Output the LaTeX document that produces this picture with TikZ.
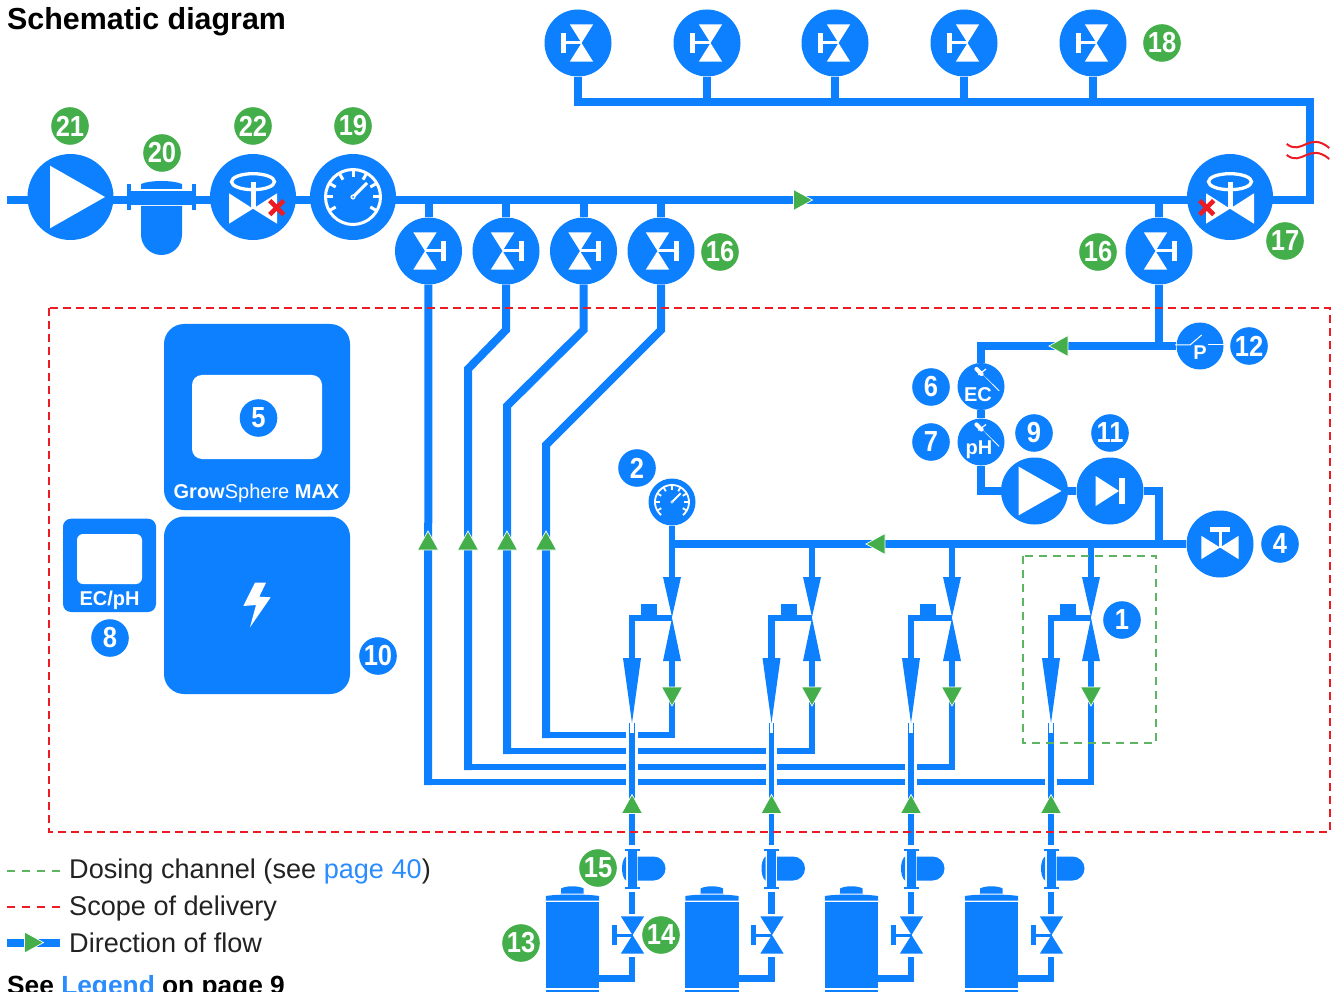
\documentclass[tikz,border=0pt]{standalone}
\usepackage{fontspec}
\setmainfont{Liberation Sans}
\newfontfamily\numfont[FakeStretch=0.88]{Liberation Sans}

\definecolor{pipeblue}{HTML}{0D80FF}
\definecolor{linkblue}{HTML}{2A8CFF}
\definecolor{flowgreen}{HTML}{43AE4A}
\definecolor{dashgreen}{HTML}{5DB562}
\definecolor{scopered}{HTML}{ED1C24}
\definecolor{inktext}{HTML}{222222}

\tikzset{
    pipe/.style={draw=pipeblue, line width=8pt},
    route/.style={draw=pipeblue, line width=6.3pt},
    bigcirc/.style={circle, fill=pipeblue, inner sep=0pt, minimum size=86pt},
    midcirc/.style={circle, fill=pipeblue, inner sep=0pt, minimum size=67pt},
    smallcirc/.style={circle, fill=pipeblue, inner sep=0pt, minimum size=47pt},
    bluenum/.style={circle, fill=pipeblue, text=white, inner sep=0pt, minimum size=37.6pt,
        font=\numfont\bfseries\fontsize{29}{29}\selectfont},
    greennum/.style={bluenum, fill=flowgreen},
    instrtext/.style={text=white, inner sep=0pt, font=\bfseries\fontsize{20}{20}\selectfont},
    legendtext/.style={anchor=base west, inner sep=0pt, text=inktext, font=\fontsize{27.1}{27}\selectfont},
    headtext/.style={anchor=base west, inner sep=0pt, text=black, font=\bfseries\fontsize{#1}{#1}\selectfont},
    tankbody/.style={rectangle, fill=pipeblue, inner sep=0pt, minimum width=53.3pt, minimum height=86pt},
    spacer/.style={rectangle, inner sep=0pt, outer sep=3pt, minimum width=15pt, minimum height=37pt},
    % Flow direction
    flowarrow/.pic={
        \fill[flowgreen, draw=white, line width=0.7pt] (10,0) -- (-9,-10.5) -- (-9,10.5) -- cycle;
    },
    % Valve with T handle, origin at the centre of its circle
    gatevalve/.pic={
        \fill (-15.2,-18.7) -- (8.2,-18.7) -- (-3.5,0) -- (8.2,18.7) -- (-15.2,18.7) -- (-3.5,0) -- cycle;
        \fill (-3.5,-1.5) rectangle (13,1.5);
        \fill (12.5,-10) rectangle (17.5,10);
    },
    wheelvalve/.pic={
        \fill (-24,-3.7) -- (0,11.7) -- (24,-3.7) -- (24,26.7) -- (0,11.7) -- (-24,26.7) -- cycle;
        \fill (-2.5,-15.3) rectangle (2.5,11.7);
        \draw[white, line width=3.3pt] (0,-15.3) ellipse [x radius=21.5, y radius=8];
    },
    redcross/.pic={
        \draw[scopered, line width=4.6pt] (-7,-7) -- (7,7) (-7,7) -- (7,-7);
    },
    pumpglyph/.pic={
        \fill (-20.5,-31.3) -- (34.5,0) -- (-20.5,31.3) -- cycle;
    },
    % Pressure gauge, #1 is half the opening of the ring at the bottom
    gauge/.pic={
        \draw[white] ({90+#1}:27.5) arc [start angle={90+#1}, end angle={450-#1}, radius=27.5];
        \foreach \a in {-180,-150,-120,-90,-60,-30,0,30,150}
            \draw[white] (\a:27) -- (\a:20);
        \draw[white] (0,0) -- (14,-14);
        \fill[white] (0,0) circle (2.6);
        \fill[pipeblue] (0,0) circle (1);
    },
    % Measuring probe of the sensors
    probe/.pic={
        \draw[white, line width=4.2pt, line cap=round] (-4.5,-17.5) -- (0.5,-12.5);
        \fill[white] (-1.3,-15) -- (0.8,-13) -- (18.5,4) -- (17.6,4.6) -- cycle;
        \draw[white, line width=1.2pt] (-2.7,-11.5) -- (5,-17.5);
    },
    % Dosing pump with its flanges
    dosepump/.pic={
        \fill (-7.5,-20) rectangle (7.5,-17.3);
        \fill (-7.5,18) rectangle (7.5,20.7);
        \fill (-4.5,-18) rectangle (4.5,19);
        \fill (-6,-12) .. controls (-9,-10) and (-10,-4) .. (-10,0) .. controls (-10,4) and (-9,10) .. (-6,12) -- cycle;
        \fill (5.5,-12) -- (21.5,-12) arc [start angle=-90, end angle=90, radius=12] -- (5.5,12) -- cycle;
    },
    % Cap of the tank
    tankcap/.pic={
        \fill (-11.3,-4) .. controls (-6,-7) and (6,-7) .. (11.3,-4) -- (11.3,1) -- (-11.3,1) -- cycle;
        \fill (-26.6,3.5) .. controls (-15,1.5) and (15,1.5) .. (26.6,3.5) -- (26.6,8) -- (-26.6,8) -- cycle;
    },
}

\begin{document}
\begin{tikzpicture}[x=1pt, y=-1pt]
    \useasboundingbox (0,0) rectangle (1342,992);

    % Water supply line
    \coordinate (ml) at (7,200);
    \coordinate (mr) at (1309.5,200);
    \coordinate (hdr) at (1309.5,102);
    \node[bigcirc] (p21) at (70.5,197) {};
    \node[rectangle, fill=pipeblue, inner sep=0pt, minimum width=61pt, minimum height=14pt] (fil) at (161.5,197.7) {};
    \node[bigcirc] (v22) at (253,197) {};
    \node[bigcirc] (g19) at (353,197) {};
    \node[bigcirc] (v17) at (1230,197) {};
    \foreach \i/\x in {1/578,2/707,3/835,4/964,5/1093}
        \node[midcirc] (t\i) at (\x,43) {};
    \foreach \i/\x in {1/428.5,2/506,3/583.5,4/661,5/1159}
        \node[midcirc] (vb\i) at (\x,251) {};

    % Dosing unit
    \node[smallcirc] (ps12) at (1200,346) {};
    \coordinate (ecbend) at (981,346);
    \node[smallcirc] (ec6) at (981,386.5) {};
    \node[smallcirc] (ph7) at (981,442) {};
    \node[midcirc] (p9) at (1034.5,491) {};
    \node[midcirc] (c11) at (1110,491) {};
    \node[midcirc] (v4) at (1220,544) {};
    \node[smallcirc] (g2) at (672,502) {};

    % Supply pipes
    \draw[pipe] (ml) -- (p21 |- ml) -- (fil |- ml) -- (v22 |- ml) -- (g19 |- ml) -- (v17 |- ml) -- (mr) -- (hdr) -- (t1 |- hdr) -- (t1);
    \foreach \i in {2,3,4,5}
        \draw[pipe] (t\i) -- (t\i |- hdr);
    \foreach \i in {1,2,3,4,5}
        \draw[pipe] (vb\i) -- (vb\i |- ml);
    \draw[pipe] (vb5) -- (vb5 |- ps12);
    \draw[pipe] (ps12) -- (ecbend) -- (ec6) -- (ph7) |- (p9) -- (c11) -| (v4 -| vb5);
    \draw[pipe] (v4) -- (g2 |- v4);

    % Dosing channels
    \foreach \i/\xl/\xr in {1/632/672,2/771.5/812,3/911/952,4/1051/1091}{
        \coordinate (nz\i) at (\xr,618);
        \coordinate (up\i) at (\xr,660);
        \coordinate (in\i) at (\xl,660);
        \coordinate (tap\i) at (\xr,544);
        \draw[route] (nz\i) -| (in\i);
        \fill[pipeblue] (\xl+9,604) rectangle (\xl+25,617);
        \fill[pipeblue] (\xr-9,577) -- (\xr+9,577) -- (\xr,617) -- cycle;
        \fill[pipeblue] (\xr-9,661) -- (\xr+9,661) -- (\xr,618) -- cycle;
        \fill[pipeblue] (\xl-9,658) -- (\xl+9,658) -- (\xl,723) -- cycle;
    }
    \foreach \i in {2,3,4}
        \draw[route] (tap\i) -- ++(0,33);
    \draw[route] (g2) -- (672,577);

    % Return lines
    \draw[route] (428,782) -| (up4);
    \draw[route] (468,767) -| (up3);
    \draw[route] (507,751) -| (up2);
    \draw[route] (546,735) -| (up1);
    \draw[pipe] (vb1) -- (428,785);
    \draw[pipe] (vb2) -- (506,330) -- (468,369) -- (468,770);
    \draw[pipe] (vb3) -- (583.5,330) -- (507,406) -- (507,754);
    \draw[pipe] (vb4) -- (661,330) -- (546,445) -- (546,738);

    % Tanks, dosing pumps and valves
    \foreach \i/\xl in {1/632,2/771.5,3/911,4/1051}{
        \draw[white, line width=11.5pt] (\xl,724) -- (\xl,792);
        \node[spacer, minimum height=41pt] (dp\i) at (\xl,868.5) {};
        \node[spacer] (dv\i) at (\xl,935.5) {};
        \node[tankbody] (tk\i) at (\xl-59.6,945) {};
        \fill[pipeblue] (\xl-86.2,989.5) rectangle (\xl-33,993);
        \pic[pipeblue] at (\xl-59.6,892.5) {tankcap};
        \draw[pipeblue, line width=5.3pt] (\xl,723) -- (dp\i);
        \fill[white] (\xl-1.7,723) rectangle (\xl+1.7,733);
        \draw[route] (dp\i) -- (dv\i);
        \draw[route] (dv\i) |- (tk\i.east |- 0,978.5);
        \pic[pipeblue] at (\xl,868.5) {dosepump};
        \pic[pipeblue, xscale=-1] at (\xl-3,935) {gatevalve};
    }

    % Glyphs in the circles
    \pic[white] at (70.5,197) {pumpglyph};
    \pic[white, scale=0.78] at (1034.5,491) {pumpglyph};
    \fill[white] (1095.7,476) -- (1119,491) -- (1095.7,506) -- cycle;
    \fill[white] (1119,477.7) rectangle (1125,504);
    \pic[white] at (253,197) {wheelvalve};
    \pic[white] at (1230,197) {wheelvalve};
    \pic at (276.7,207.7) {redcross};
    \pic at (1206.7,207.7) {redcross};
    \pic[line width=3pt] at (353,197) {gauge=0};
    \pic[line width=1.8pt, scale=0.62] at (672,502) {gauge=40};
    \foreach \x in {578,707,835,964,1093}
        \pic[white, xscale=-1] at (\x,43) {gatevalve};
    \foreach \x in {428.5,506,583.5,661,1159}
        \pic[white] at (\x,251) {gatevalve};
    \pic[white, rotate=90] at (1220,544) {gatevalve};
    \pic at (981,386.5) {probe};
    \pic at (981,442) {probe};
    \node[instrtext] (ectxt) at (978,395) {EC};
    \node[instrtext] (phtxt) at (979,450) {pH};
    \node[instrtext] (ptxt) at (1200,353) {P};
    \draw[white, line width=1pt] (1175,345) -- (1190,345) -- (1201.7,335);
    \draw[white, line width=1pt] (1208,345) -- (1224,345);

    % Filter
    \fill[pipeblue] (127,184) rectangle (131,210);
    \fill[pipeblue] (192,184) rectangle (196,210);
    \fill[pipeblue] (141,189) -- (141,184) .. controls (150,180) and (173,180) .. (182,184) -- (182,189) -- cycle;
    \fill[pipeblue] (141,206) -- (182,206) -- (182,234.5) arc [start angle=0, end angle=180, radius=20.5] -- cycle;

    % Flow arrows
    \pic at (802.5,200) {flowarrow};
    \pic[rotate=180] at (1059,346) {flowarrow};
    \pic[rotate=180] at (876,544) {flowarrow};
    \foreach \x in {428,468,507,546}
        \pic[rotate=90] at (\x,541) {flowarrow};
    \foreach \x in {632,771.5,911,1051}
        \pic[rotate=90] at (\x,804.5) {flowarrow};
    \foreach \x in {672,812,952,1091}
        \pic[rotate=-90] at (\x,696) {flowarrow};

    % Controller, power supply and sensor display
    \fill[pipeblue, rounded corners=20pt] (164,324) rectangle (350,510);
    \fill[white, rounded corners=10pt] (192,375) rectangle (322,459);
    \node[anchor=base, inner sep=0pt, text=white, font=\fontsize{20}{20}\selectfont] (maxtxt) at (256.5,498) {\textbf{Grow}Sphere \textbf{MAX}};
    \fill[pipeblue, rounded corners=20pt] (164,516.5) rectangle (350,694);
    \fill[white] (255,582.7) -- (266,582.7) -- (259.3,596.7) -- (270.7,597.3) -- (250,627.3) -- (256,605) -- (243.3,606) -- cycle;
    \fill[pipeblue, rounded corners=8pt] (63,518.7) rectangle (156,612);
    \fill[white, rounded corners=6pt] (77,534) rectangle (142,584);
    \node[anchor=base, inner sep=0pt, text=white, font=\bfseries\fontsize{20}{20}\selectfont] (ectext) at (109.5,605) {EC/pH};

    % Red water line break
    \draw[scopered, line width=2pt] (1286.7,144) .. controls (1302,156) and (1309,131) .. (1329.3,148);
    \draw[scopered, line width=2pt] (1286.7,155) .. controls (1302,167) and (1309,142) .. (1329.3,159);

    % Scope of delivery and dosing channel
    \draw[scopered, line width=1.1pt, dash pattern=on 8pt off 5pt] (49,308) rectangle (1330,832);
    \draw[dashgreen, line width=1.1pt, dash pattern=on 8pt off 6pt] (1023,556) rectangle (1156,743);

    % Numbers
    \foreach \n/\t/\x/\y in {n21/21/70/126, n20/20/162/153, n22/22/253/126, n19/19/353/126, n18/18/1162/43,
        n16a/16/720/252, n16b/16/1098/252, n17/17/1285/241, n15/15/598/868, n14/14/661/935, n13/13/521/943}
        \node[greennum] (\n) at (\x,\y) {\t};
    \foreach \n/\t/\x/\y in {n12/12/1249/346, n6/6/931/387, n7/7/931/442, n9/9/1034/433, n11/11/1110/433,
        n4/4/1280/544, n2/2/637/468, n5/5/258.5/418, n8/8/110/638, n10/10/378/656, n1/1/1122/620}
        \node[bluenum] (\n) at (\x,\y) {\t};

    % Title and legend
    \node[headtext=30.4] (title) at (7,30) {Schematic diagram};
    \coordinate (la) at (7,871);
    \coordinate (lb) at (7,907);
    \coordinate (lc) at (7,943);
    \draw[dashgreen, line width=1.1pt, dash pattern=on 8pt off 7pt] (la) -- ++(53,0);
    \draw[scopered, line width=1.1pt, dash pattern=on 8pt off 7pt] (lb) -- ++(53,0);
    \draw[pipe] (lc) -- ++(53,0);
    \pic at (33.5,942.5) {flowarrow};
    \node[legendtext] (txta) at (69,878.5) {Dosing channel (see \textcolor{linkblue}{page 40})};
    \node[legendtext] (txtb) at (69,915) {Scope of delivery};
    \node[legendtext] (txtc) at (69,952) {Direction of flow};
    \node[headtext=26.3] (seeleg) at (7,994) {See \textcolor{linkblue}{Legend} on page 9};
\end{tikzpicture}
\end{document}
